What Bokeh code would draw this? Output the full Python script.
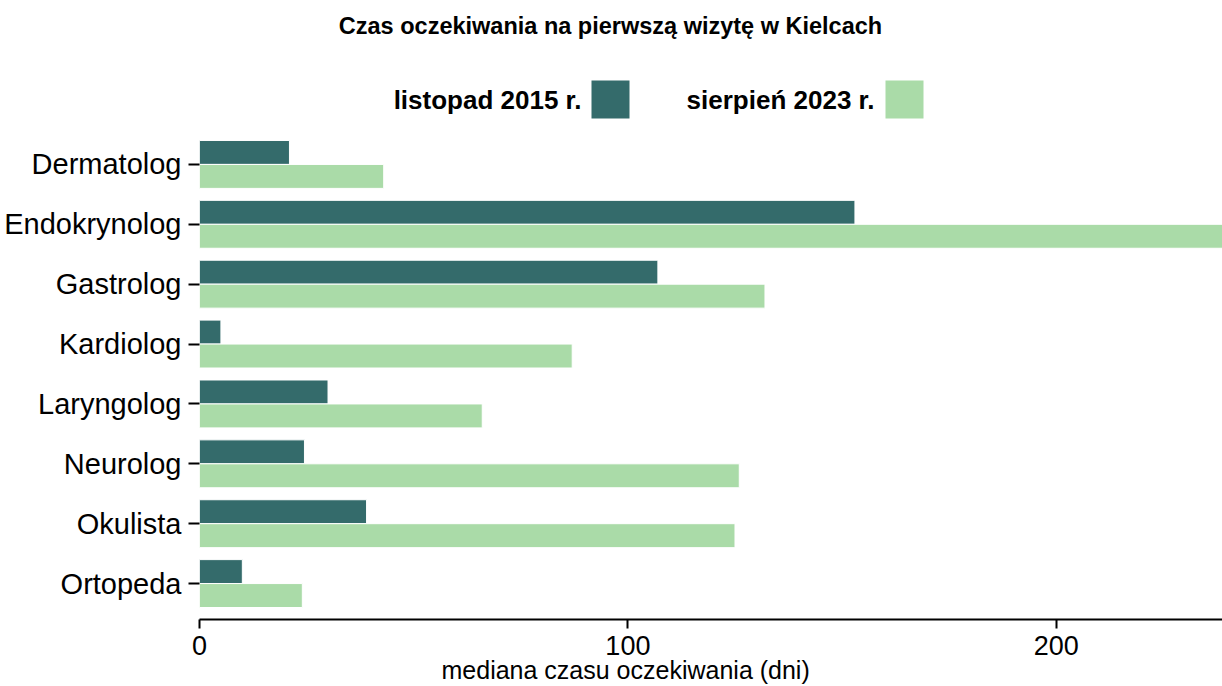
from bokeh.plotting import figure
from bokeh.layouts import column
from bokeh.models import FactorRange, Range1d, FixedTicker, ColumnDataSource, Title
from bokeh.transform import dodge
from bokeh.core.properties import value
from bokeh.embed import file_html
from bokeh.resources import INLINE

title_text = "Czas oczekiwania na pierwszą wizytę w Kielcach"
axis_title = "mediana czasu oczekiwania (dni)"
categories = ["Dermatolog", "Endokrynolog", "Gastrolog", "Kardiolog",
              "Laryngolog", "Neurolog", "Okulista", "Ortopeda"]
series = ["listopad 2015 r.", "sierpień 2023 r."]
v2015 = [21, 153, 107, 5, 30, 24.5, 39, 10]
v2023 = [43, 243, 132, 87, 66, 126, 125, 24]
xticks = [0, 100, 200]
colors = ["#346b6b", "#aadba8"]

FONT = value("Liberation Sans")

src = ColumnDataSource(dict(cat=categories, v2015=v2015, v2023=v2023))

p = figure(width=1222, height=558,
           y_range=FactorRange(factors=categories[::-1], range_padding=0.1,
                               range_padding_units="absolute"),
           x_range=Range1d(0, 238.8),
           output_backend="svg", toolbar_location=None,
           min_border_left=199, min_border_right=0, min_border_top=0,
           min_border_bottom=67)

p.hbar(y=dodge("cat", 0.2, range=p.y_range), right="v2015", height=0.4,
       source=src, fill_color=colors[0], line_color="white", line_width=1)
p.hbar(y=dodge("cat", -0.2, range=p.y_range), right="v2023", height=0.4,
       source=src, fill_color=colors[1], line_color="white", line_width=1)

p.xgrid.visible = False
p.ygrid.visible = False
p.outline_line_color = None

ya = p.yaxis[0]
ya.axis_line_color = None
ya.major_tick_out = 11
ya.major_tick_in = 0
ya.major_tick_line_width = 2
ya.major_label_standoff = 7
ya.major_label_text_font = "Liberation Sans"
ya.major_label_text_font_size = "29px"
ya.major_label_text_color = "black"

xa = p.xaxis[0]
xa.ticker = FixedTicker(ticks=xticks)
xa.axis_line_width = 2
xa.axis_line_color = "black"
xa.major_tick_out = 9
xa.major_tick_in = 0
xa.major_tick_line_width = 2
xa.minor_tick_line_color = None
xa.major_label_standoff = 7
xa.major_label_text_font = "Liberation Sans"
xa.major_label_text_font_size = "27px"
xa.major_label_text_color = "black"

# axis title, placed below the axis, left-offset as in the reference
p.add_layout(Title(text=axis_title, align="left", offset=242, standoff=-8,
                   text_font="Liberation Sans", text_font_size="25px",
                   text_font_style="normal", text_color="black"), "below")

# header: its frame is aligned with the main plot's frame (199..1222 px)
h = figure(width=1222, height=128, x_range=Range1d(199, 1222), y_range=Range1d(0, 128),
           output_backend="svg", toolbar_location=None,
           min_border_left=0, min_border_right=0, min_border_top=0, min_border_bottom=0)
h.axis.visible = False
h.xgrid.visible = False
h.ygrid.visible = False
h.outline_line_color = None

h.text(x=[610], y=[103], text=[title_text], text_align="center",
       text_baseline="middle", text_font=FONT, text_font_size="23.5px",
       text_font_style="bold", text_color="black")
h.text(x=[581, 874], y=[29, 29], text=series, text_align="right",
       text_baseline="middle", text_font=FONT, text_font_size="26px",
       text_font_style="bold", text_color="black")
h.rect(x=[610, 904], y=[29, 29], width=38, height=38, fill_color=colors,
       line_color=None)

layout = column(h, p, spacing=0)
open("out.html", "w").write(file_html(layout, INLINE))
